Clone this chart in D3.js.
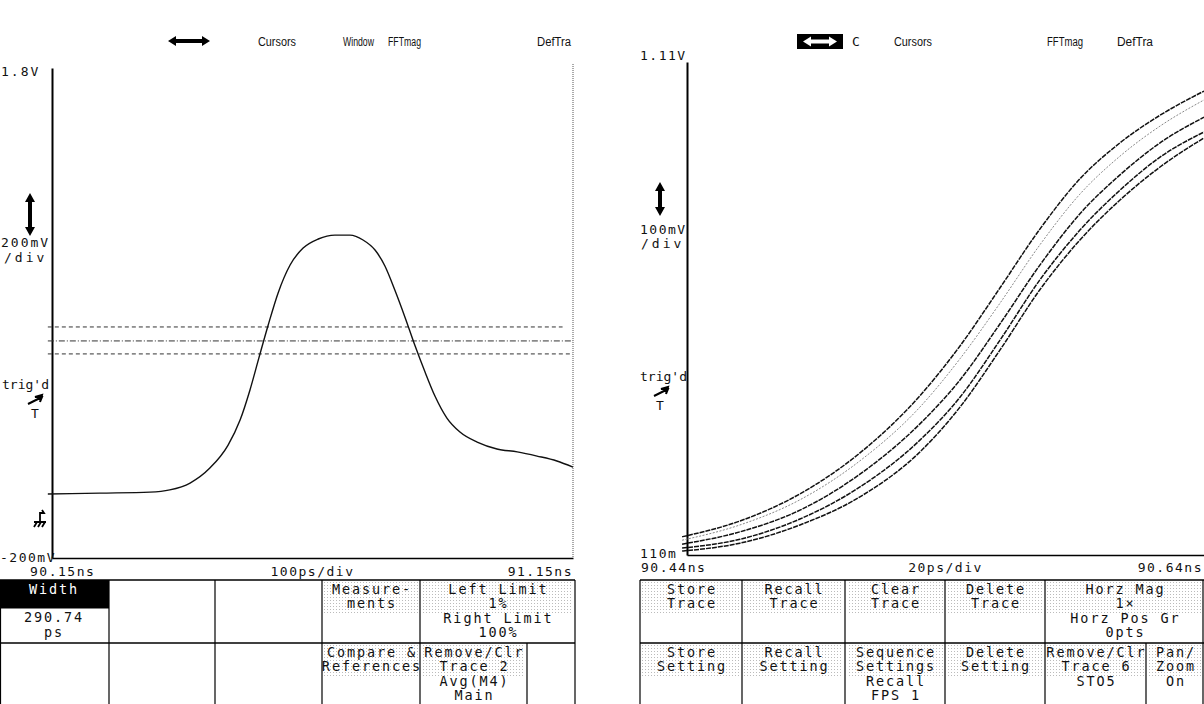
<!DOCTYPE html>
<html>
<head>
<meta charset="utf-8">
<script src="https://cdn.jsdelivr.net/npm/d3@7"></script>
<style>
  body { margin: 0; background: #fff; }
  svg { display: block; }
  .mono { font-family: "DejaVu Sans Mono", "Liberation Mono", monospace; font-size: 13px; fill: #111; }
  .hdr { font-family: "Liberation Sans Narrow", "Liberation Sans", sans-serif; font-size: 12px; fill: #111; }
  .menu { font-family: "DejaVu Sans Mono", "Liberation Mono", monospace; font-size: 13.5px; fill: #111; letter-spacing: 1.9px; }
</style>
</head>
<body>
<div id="content"></div>
<script>
// ---- left screen: single pulse ----
var leftTimes = [90.142, 90.242, 90.338, 90.376, 90.415, 90.453, 90.488, 90.511, 90.530, 90.547, 90.565, 90.584, 90.607, 90.632, 90.661, 90.693, 90.722, 90.747, 90.770, 90.789, 90.808, 90.828, 90.847, 90.866, 90.885, 90.908, 90.933, 90.966, 91.004, 91.043, 91.081, 91.119, 91.150];
var leftVolts = [0.061, 0.065, 0.069, 0.078, 0.106, 0.167, 0.261, 0.363, 0.486, 0.616, 0.751, 0.882, 0.996, 1.065, 1.102, 1.118, 1.118, 1.098, 1.057, 0.992, 0.894, 0.780, 0.665, 0.559, 0.461, 0.371, 0.314, 0.273, 0.245, 0.233, 0.216, 0.196, 0.171];
var leftLevels = [0.743, 0.686, 0.633];
var leftTimeLabels = ["90.15ns", "100ps/div", "91.15ns"];
var leftVoltLabels = ["1.8V", "200mV", "/div", "-200mV"];

// ---- right screen: five stored edges ----
var rightTimes = [90.4381, 90.4605, 90.4837, 90.5069, 90.5301, 90.5456, 90.5611, 90.5765, 90.5920, 90.6075, 90.6230, 90.6400];
var trace1 = [0.147, 0.179, 0.234, 0.317, 0.433, 0.534, 0.652, 0.771, 0.873, 0.946, 1.002, 1.051];
var trace2 = [0.140, 0.171, 0.222, 0.301, 0.410, 0.508, 0.621, 0.739, 0.842, 0.919, 0.980, 1.033];
var trace3 = [0.132, 0.157, 0.201, 0.274, 0.376, 0.465, 0.579, 0.698, 0.802, 0.881, 0.946, 0.998];
var trace4 = [0.124, 0.142, 0.183, 0.248, 0.343, 0.430, 0.546, 0.668, 0.769, 0.850, 0.917, 0.968];
var trace5 = [0.118, 0.134, 0.171, 0.228, 0.319, 0.410, 0.526, 0.648, 0.749, 0.830, 0.897, 0.956];
var rightTimeLabels = ["90.44ns", "20ps/div", "90.64ns"];
var rightVoltLabels = ["1.11V", "100mV", "/div", "110m"];

// header soft keys
var leftHeader = ["Cursors", "Window", "FFTmag", "DefTra"];
var rightHeader = ["C", "Cursors", "FFTmag", "DefTra"];

// menu cells: [row, x0, x1, lines]
var leftMenu = [
  [0, 322, 420, ["Measure-", "ments"]],
  [0, 420, 575, ["Left Limit", "1%", "Right Limit", "100%"]],
  [1, 322, 420, ["Compare &", "References"]],
  [1, 420, 527, ["Remove/Clr", "Trace 2", "Avg(M4)", "Main"]]
];
var rightMenu = [
  [0, 640, 742, ["Store", "Trace"]],
  [0, 742, 845, ["Recall", "Trace"]],
  [0, 845, 945, ["Clear", "Trace"]],
  [0, 945, 1045, ["Delete", "Trace"]],
  [0, 1045, 1204, ["Horz Mag", "1×", "Horz Pos Gr", "0pts"]],
  [1, 640, 742, ["Store", "Setting"]],
  [1, 742, 845, ["Recall", "Setting"]],
  [1, 845, 945, ["Sequence", "Settings", "Recall", "FPS 1"]],
  [1, 945, 1045, ["Delete", "Setting"]],
  [1, 1045, 1146, ["Remove/Clr", "Trace 6", "STO5"]],
  [1, 1146, 1204, ["Pan/", "Zoom", "On"]]
];

var svg = d3.select("#content").append("svg")
    .attr("width", 1204)
    .attr("height", 704);

var defs = svg.append("defs");
var pat = defs.append("pattern")
    .attr("id", "stip")
    .attr("width", 3).attr("height", 3)
    .attr("patternUnits", "userSpaceOnUse");
pat.append("rect").attr("width", 1).attr("height", 1).attr("fill", "#bbb");

// scales
var xL = d3.scaleLinear().domain([90.15, 91.15]).range([52, 573]);
var yL = d3.scaleLinear().domain([-0.2, 1.8]).range([558, 68]);
var xR = d3.scaleLinear().domain([90.44, 90.64]).range([687, 1204]);
var yR = d3.scaleLinear().domain([0.11, 1.11]).range([555, 62]);

function drawAxes(g, x, y, rightBorder)
{
  g.append("g")
      .attr("transform", "translate(" + x.range()[0] + ",0)")
      .call(d3.axisLeft(y).tickValues([]).tickSizeOuter(0))
      .select(".domain").attr("stroke", "#000").attr("stroke-width", 2);
  g.append("g")
      .attr("transform", "translate(0," + y.range()[0] + ")")
      .call(d3.axisBottom(x).tickValues([]).tickSizeOuter(0))
      .select(".domain").attr("stroke", "#000").attr("stroke-width", 1.5);
  if (rightBorder)
    g.append("line")
      .attr("x1", x.range()[1]).attr("x2", x.range()[1])
      .attr("y1", y.range()[1] - 4).attr("y2", y.range()[0])
      .attr("stroke", "#555").attr("stroke-dasharray", "1,1");
}

// ---------- left screen ----------
var gl = svg.append("g");
drawAxes(gl, xL, yL, true);

// measurement threshold lines
var dashes = ["4,3", "6,2,1,2", "4,3"];
var lvlEnd = [91.13, 91.15, 91.15];
gl.selectAll(".lvl").data(leftLevels).enter().append("line")
    .attr("class", "lvl")
    .attr("x1", xL(90.142))
    .attr("x2", function (d, i) { return xL(lvlEnd[i]); })
    .attr("y1", function (d) { return yL(d); })
    .attr("y2", function (d) { return yL(d); })
    .attr("stroke", "#333").attr("stroke-width", 1)
    .attr("stroke-dasharray", function (d, i) { return dashes[i]; });

var lineL = d3.line()
    .curve(d3.curveMonotoneX)
    .x(function (d) { return xL(d[0]); })
    .y(function (d) { return yL(d[1]); });
gl.append("path")
    .datum(d3.zip(leftTimes, leftVolts))
    .attr("fill", "none")
    .attr("stroke", "#111")
    .attr("stroke-width", 1.4)
    .attr("d", lineL);

// labels
gl.append("text").attr("class", "mono").attr("x", 1).attr("y", yL(1.8) + 8).attr("letter-spacing", 2).text(leftVoltLabels[0]);
gl.append("text").attr("class", "mono").attr("x", 1).attr("y", 247).attr("letter-spacing", 2).text(leftVoltLabels[1]);
gl.append("text").attr("class", "mono").attr("x", 4).attr("y", 262).attr("letter-spacing", 3).text(leftVoltLabels[2]);
gl.append("text").attr("class", "mono").attr("x", 0).attr("y", yL(-0.2) + 4).attr("letter-spacing", 1.5).text(leftVoltLabels[3]);
gl.append("text").attr("class", "mono").attr("x", 30).attr("y", 576).attr("letter-spacing", 1.5).text(leftTimeLabels[0]);
gl.append("text").attr("class", "mono").attr("x", xL(90.65)).attr("y", 576).attr("text-anchor", "middle").attr("letter-spacing", 1.5).text(leftTimeLabels[1]);
gl.append("text").attr("class", "mono").attr("x", xL(91.15)).attr("y", 576).attr("text-anchor", "end").attr("letter-spacing", 1.5).text(leftTimeLabels[2]);
gl.append("text").attr("class", "mono").attr("x", 2).attr("y", 389).text("trig'd");
gl.append("text").attr("class", "mono").attr("x", 31).attr("y", 418).text("T");

// ---------- right screen ----------
var gr = svg.append("g");
drawAxes(gr, xR, yR, false);

var lineR = d3.line()
    .curve(d3.curveMonotoneX)
    .x(function (d) { return xR(d[0]); })
    .y(function (d) { return yR(d[1]); });
var traces = [trace1, trace2, trace3, trace4, trace5];
gr.selectAll(".tr").data(traces).enter().append("path")
    .attr("class", "tr")
    .attr("fill", "none")
    .attr("stroke", function (d, i) { return i == 1 ? "#888" : "#111"; })
    .attr("stroke-width", function (d, i) { return i == 1 ? 1 : 1.5; })
    .attr("stroke-dasharray", function (d, i) { return i == 1 ? "2,1.5" : "5,1"; })
    .attr("d", function (d) { return lineR(d3.zip(rightTimes, d)); });

gr.append("text").attr("class", "mono").attr("x", 640).attr("y", yR(1.11) - 2).attr("letter-spacing", 1.5).text(rightVoltLabels[0]);
gr.append("text").attr("class", "mono").attr("x", 640).attr("y", 234).attr("letter-spacing", 1.5).text(rightVoltLabels[1]);
gr.append("text").attr("class", "mono").attr("x", 641).attr("y", 248).attr("letter-spacing", 3).text(rightVoltLabels[2]);
gr.append("text").attr("class", "mono").attr("x", 640).attr("y", yR(0.11) + 3).attr("letter-spacing", 1.5).text(rightVoltLabels[3]);
gr.append("text").attr("class", "mono").attr("x", 641).attr("y", 572).attr("letter-spacing", 1.5).text(rightTimeLabels[0]);
gr.append("text").attr("class", "mono").attr("x", xR(90.54)).attr("y", 572).attr("text-anchor", "middle").attr("letter-spacing", 1.5).text(rightTimeLabels[1]);
gr.append("text").attr("class", "mono").attr("x", 1203).attr("y", 572).attr("text-anchor", "end").attr("letter-spacing", 1.5).text(rightTimeLabels[2]);
gr.append("text").attr("class", "mono").attr("x", 640).attr("y", 381).text("trig'd");
gr.append("text").attr("class", "mono").attr("x", 656).attr("y", 410).text("T");

// ---------- icons ----------
function hArrow(g, x0, x1, y, color)
{
  g.append("path")
    .attr("d", "M" + x0 + "," + y + " l8,-5 v3 H" + (x1 - 8) + " v-3 l8,5 l-8,5 v-3 H" + (x0 + 8) + " v3 Z")
    .attr("fill", color);
}
function vArrow(g, x, y0, y1)
{
  g.append("path")
    .attr("d", "M" + x + "," + y0 + " l-5,9 h3 V" + (y1 - 9) + " h-3 l5,9 l5,-9 h-3 V" + (y0 + 9) + " h3 Z")
    .attr("fill", "#000");
}
function trigArrow(g, x, y)
{
  g.append("path")
    .attr("d", "M" + x + "," + y + " l14,-7 m0,0 l-7,0 l7,-2 l-2,7 z")
    .attr("stroke", "#000").attr("stroke-width", 2).attr("fill", "#000");
}
hArrow(gl, 168, 210, 41, "#000");
vArrow(gl, 30, 193, 236);
trigArrow(gl, 28, 404);
// ground symbol
gl.append("path")
    .attr("d", "M34,522 h12 M37,522 l-3,5 M41,522 l-3,5 M45,522 l-3,5 M40,522 v-9 h4 l-2,-3")
    .attr("stroke", "#000").attr("stroke-width", 1.8).attr("fill", "none");

gr.append("rect").attr("x", 797).attr("y", 34).attr("width", 46).attr("height", 15).attr("fill", "#000");
hArrow(gr, 803, 837, 41.5, "#fff");
vArrow(gr, 660, 182, 216);
trigArrow(gr, 654, 396);

// header soft key labels
var hxL = [258, 343, 388, 537];
var hwL = [38, 31, 33, 34];
gl.selectAll(".hl").data(leftHeader).enter().append("text")
    .attr("class", "hdr")
    .attr("x", function (d, i) { return hxL[i]; }).attr("y", 46)
    .attr("textLength", function (d, i) { return hwL[i]; })
    .attr("lengthAdjust", "spacingAndGlyphs")
    .text(function (d) { return d; });
var hxR = [852, 894, 1047, 1117];
var hwR = [0, 38, 36, 36];
gr.selectAll(".hr").data(rightHeader).enter().append("text")
    .attr("class", function (d, i) { return i == 0 ? "mono" : "hdr"; })
    .attr("x", function (d, i) { return hxR[i]; }).attr("y", 46)
    .attr("textLength", function (d, i) { return i == 0 ? null : hwR[i]; })
    .attr("lengthAdjust", "spacingAndGlyphs")
    .text(function (d) { return d; });

// ---------- menus ----------
var rowY = [580, 643, 704];
function drawGrid(g, x0, x1, topCols, botCols)
{
  g.append("line").attr("x1", x0).attr("x2", x1).attr("y1", rowY[0]).attr("y2", rowY[0]).attr("stroke", "#000").attr("stroke-width", 1.5);
  g.append("line").attr("x1", x0).attr("x2", x1).attr("y1", rowY[1]).attr("y2", rowY[1]).attr("stroke", "#000").attr("stroke-width", 1.5);
  topCols.forEach(function (c) {
    g.append("line").attr("x1", c).attr("x2", c).attr("y1", rowY[0]).attr("y2", rowY[1]).attr("stroke", "#000").attr("stroke-width", 1.2);
  });
  botCols.forEach(function (c) {
    g.append("line").attr("x1", c).attr("x2", c).attr("y1", rowY[1]).attr("y2", rowY[2]).attr("stroke", "#000").attr("stroke-width", 1.2);
  });
}
function drawCells(g, cells)
{
  cells.forEach(function (c) {
    var y0 = rowY[c[0]];
    var cx = (c[1] + c[2]) / 2;
    g.append("rect").attr("x", c[1] + 2).attr("y", y0 + 2)
      .attr("width", c[2] - c[1] - 4).attr("height", Math.min(c[3].length, 2) * 14 + 4)
      .attr("fill", "url(#stip)");
    c[3].forEach(function (t, k) {
      g.append("text").attr("class", "menu")
        .attr("x", cx + 1).attr("y", y0 + 14 + k * 14.3)
        .attr("text-anchor", "middle").text(t);
    });
  });
}

var ml = svg.append("g");
ml.append("rect").attr("x", 0).attr("y", 580).attr("width", 109).attr("height", 28).attr("fill", "#000");
drawGrid(ml, 0, 575, [0.5, 109, 215, 322, 420, 575], [0.5, 109, 215, 322, 420, 527, 575]);
ml.append("line").attr("x1", 0).attr("x2", 109).attr("y1", 608).attr("y2", 608).attr("stroke", "#000");
drawCells(ml, leftMenu);
ml.append("text").attr("class", "menu").attr("x", 54).attr("y", 594).attr("text-anchor", "middle").style("fill", "#fff").text("Width");
ml.append("text").attr("class", "menu").attr("x", 54).attr("y", 622).attr("text-anchor", "middle").text("290.74");
ml.append("text").attr("class", "menu").attr("x", 54).attr("y", 637).attr("text-anchor", "middle").text("ps");

var mr = svg.append("g");
drawGrid(mr, 640, 1204, [640, 742, 845, 945, 1045, 1203], [640, 742, 845, 945, 1045, 1146, 1203]);
drawCells(mr, rightMenu);
</script>
</body>
</html>
